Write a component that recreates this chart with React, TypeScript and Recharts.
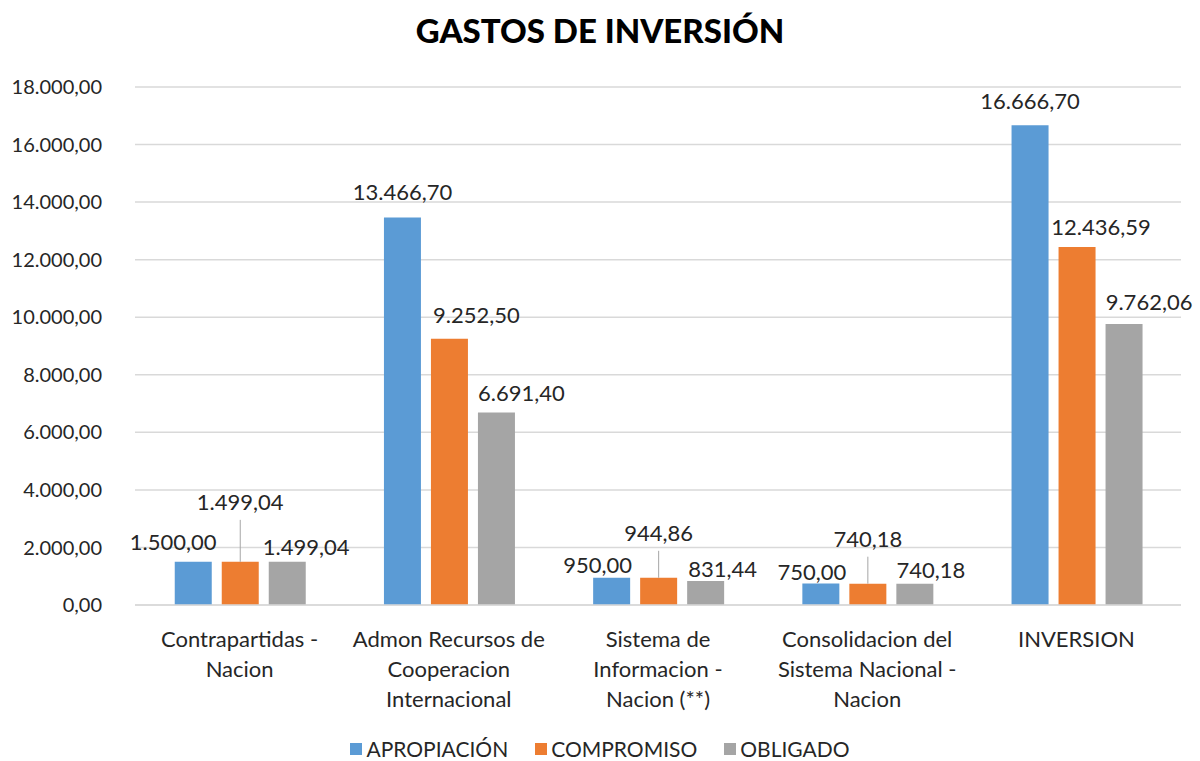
import { Bar, BarChart, CartesianGrid, XAxis, YAxis } from "recharts";

const CATEGORIES = [
  "Contrapartidas -\nNacion",
  "Admon Recursos de\nCooperacion\nInternacional",
  "Sistema de\nInformacion -\nNacion (**)",
  "Consolidacion del\nSistema Nacional -\nNacion",
  "INVERSION",
];
const APROPIACION = [1500.0, 13466.7, 950.0, 750.0, 16666.7];
const COMPROMISO = [1499.04, 9252.5, 944.86, 740.18, 12436.59];
const OBLIGADO = [1499.04, 6691.4, 831.44, 740.18, 9762.06];
const Y_TICKS = [0, 2000, 4000, 6000, 8000, 10000, 12000, 14000, 16000, 18000];

const SERIES = [
  { key: "apropiacion", name: "APROPIACIÓN", color: "#5B9BD5" },
  { key: "compromiso", name: "COMPROMISO", color: "#ED7D31" },
  { key: "obligado", name: "OBLIGADO", color: "#A5A5A5" },
];

// label placement per series / category: [dx from bar centre, dy from bar top, leader line]
const LABEL_PLACEMENT: [number, number, boolean][][] = [
  [[-20, -20, false], [0, -26, false], [-14, -13, false], [-9, -12, false], [0, -25, false]],
  [[0, -60, true], [27, -24, false], [0, -45, true], [0, -45, true], [24, -21, false]],
  [[19, -15, false], [25, -20, false], [17, -13, false], [16, -14, false], [25, -23, false]],
];

const FONT = "Lato, 'Open Sans', sans-serif";
const TEXT = "#262626";

const rows = CATEGORIES.map((name, i) => ({
  name,
  apropiacion: APROPIACION[i],
  compromiso: COMPROMISO[i],
  obligado: OBLIGADO[i],
}));

function fmt(v: number) {
  const [int, dec] = v.toFixed(2).split(".");
  return int.replace(/\B(?=(\d{3})+(?!\d))/g, ".") + "," + dec;
}

function makeLabel(s: number) {
  return (props: any) => {
    const { x, y, width, value, index } = props;
    const [dx, dy, leader] = LABEL_PLACEMENT[s][index];
    const cx = Number(x) + Number(width) / 2;
    const top = Number(y);
    return (
      <g>
        {leader && <line x1={cx} x2={cx} y1={top} y2={top + dy + 18} stroke="#A6A6A6" strokeWidth={1} />}
        <text
          x={cx + dx}
          y={top + dy}
          textAnchor="middle"
          dominantBaseline="central"
          fontFamily={FONT}
          fontSize={22}
          fill={TEXT}
        >
          {fmt(Number(value))}
        </text>
      </g>
    );
  };
}

function CategoryTick(props: any) {
  const { x, y, payload } = props;
  const lines = String(payload.value).split("\n");
  return (
    <text x={x} y={y} textAnchor="middle" fontFamily={FONT} fontSize={22} fill={TEXT}>
      {lines.map((line, i) => (
        <tspan key={i} x={x} dy={i === 0 ? 40 : 30}>
          {line}
        </tspan>
      ))}
    </text>
  );
}

export default function App() {
  return (
    <div style={{ position: "relative", width: 1200, height: 761, background: "#fff", fontFamily: FONT }}>
      <style>{"body{margin:0}"}</style>
      <div
        style={{
          position: "absolute",
          top: 10,
          left: 0,
          width: 1200,
          textAlign: "center",
          fontSize: 33,
          fontWeight: 900,
          color: "#000",
        }}
      >
        GASTOS DE INVERSIÓN
      </div>
      <BarChart
        width={1200}
        height={761}
        data={rows}
        margin={{ top: 87, right: 19, bottom: 46, left: 0 }}
        barCategoryGap="19%"
        barGap={10}
      >
        <CartesianGrid vertical={false} stroke="#D9D9D9" strokeWidth={1.5} />
        <XAxis
          dataKey="name"
          height={110}
          tick={<CategoryTick />}
          tickLine={false}
          tickSize={0}
          axisLine={{ stroke: "#D9D9D9", strokeWidth: 1.5 }}
          interval={0}
        />
        <YAxis
          width={135}
          domain={[0, 18000]}
          ticks={Y_TICKS}
          tickFormatter={fmt}
          tickLine={false}
          axisLine={false}
          tickSize={0}
          tickMargin={33}
          tick={{ fontFamily: FONT, fontSize: 20, fill: TEXT }}
        />
        {SERIES.map((s, i) => (
          <Bar
            key={s.key}
            dataKey={s.key}
            name={s.name}
            fill={s.color}
            isAnimationActive={false}
            label={makeLabel(i)}
          />
        ))}
      </BarChart>
      <div
        style={{
          position: "absolute",
          top: 736,
          left: 0,
          width: 1200,
          display: "flex",
          justifyContent: "center",
          gap: 27,
          fontSize: 21,
          color: TEXT,
        }}
      >
        {SERIES.map((s) => (
          <div key={s.key} style={{ display: "flex", alignItems: "center", gap: 4 }}>
            <span style={{ width: 12, height: 12, background: s.color, display: "inline-block" }} />
            <span>{s.name}</span>
          </div>
        ))}
      </div>
    </div>
  );
}
